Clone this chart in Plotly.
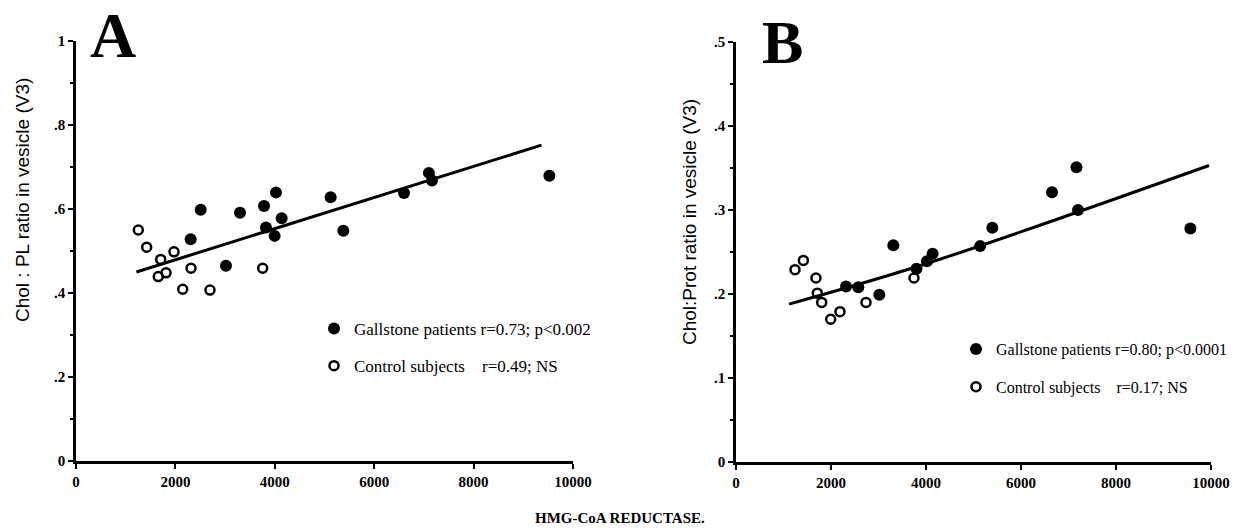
import plotly.graph_objects as go

# ---------------- data ----------------
a_gall_x = [2307, 2509, 3018, 3300, 3783, 3823, 3997, 4024, 4138, 5124, 5379, 6600, 7100, 7163, 9525]
a_gall_y = [0.528, 0.598, 0.465, 0.591, 0.607, 0.556, 0.536, 0.639, 0.578, 0.628, 0.548, 0.638, 0.686, 0.668, 0.679]
a_ctrl_x = [1254, 1422, 1704, 1972, 1656, 1811, 2314, 2147, 2696, 3756]
a_ctrl_y = [0.550, 0.509, 0.480, 0.498, 0.439, 0.448, 0.459, 0.409, 0.407, 0.459]
a_fit_x = [1215, 9366]
a_fit_y = [0.450, 0.752]

b_gall_x = [2316, 2575, 3018, 3312, 3800, 4020, 4140, 5140, 5396, 6653, 7168, 7200, 9566]
b_gall_y = [0.209, 0.208, 0.199, 0.258, 0.230, 0.239, 0.248, 0.257, 0.279, 0.321, 0.351, 0.300, 0.278]
b_ctrl_x = [1242, 1418, 1684, 1712, 1804, 1993, 2189, 2737, 3747]
b_ctrl_y = [0.229, 0.240, 0.219, 0.201, 0.190, 0.170, 0.179, 0.190, 0.219]
b_fit_x = [1116, 4000, 9958]
b_fit_y = [0.188, 0.236, 0.353]

x_ticks = [0, 2000, 4000, 6000, 8000, 10000]
x_ticktext = ["0", "2000", "4000", "6000", "8000", "10000"]
a_yticks = [0, 0.2, 0.4, 0.6, 0.8, 1.0]
a_yticktext = ["0", ".2", ".4", ".6", ".8", "1"]
b_yticks = [0, 0.1, 0.2, 0.3, 0.4, 0.5]
b_yticktext = ["0", ".1", ".2", ".3", ".4", ".5"]

NB = "\u00a0"
a_gall_name = "Gallstone patients" + NB + "r=0.73; p<0.002"
a_ctrl_name = "Control subjects" + NB * 4 + "r=0.49; NS"
b_gall_name = "Gallstone patients" + NB + "r=0.80; p<0.0001"
b_ctrl_name = "Control subjects" + NB * 4 + "r=0.17; NS"

W, H = 1240, 530
fig = go.Figure()

FILLED = dict(color="black", size=12, symbol="circle")
OPEN = dict(color="black", size=9, symbol="circle-open", line=dict(width=2.5, color="black"))

# Panel A
fig.add_trace(go.Scatter(x=a_fit_x, y=a_fit_y, mode="lines", line=dict(color="black", width=3),
                         showlegend=False, xaxis="x", yaxis="y", hoverinfo="skip"))
fig.add_trace(go.Scatter(x=a_ctrl_x, y=a_ctrl_y, mode="markers", marker=OPEN, name=a_ctrl_name,
                         xaxis="x", yaxis="y", legend="legend", legendgroup="ac", legendrank=2))
fig.add_trace(go.Scatter(x=a_gall_x, y=a_gall_y, mode="markers", marker=FILLED, name=a_gall_name,
                         xaxis="x", yaxis="y", legend="legend", legendgroup="ag", legendrank=1))

# Panel B
fig.add_trace(go.Scatter(x=b_fit_x, y=b_fit_y, mode="lines", line=dict(color="black", width=3, shape="spline"),
                         showlegend=False, xaxis="x2", yaxis="y2", hoverinfo="skip"))
fig.add_trace(go.Scatter(x=b_ctrl_x, y=b_ctrl_y, mode="markers", marker=OPEN, name=b_ctrl_name,
                         xaxis="x2", yaxis="y2", legend="legend2", legendgroup="bc", legendrank=2))
fig.add_trace(go.Scatter(x=b_gall_x, y=b_gall_y, mode="markers", marker=FILLED, name=b_gall_name,
                         xaxis="x2", yaxis="y2", legend="legend2", legendgroup="bg", legendrank=1))

def px_x(p):
    return p / W

def px_y(p):
    return 1 - p / H

tickfont = dict(family="Liberation Serif", size=15, color="black", weight="bold")
axis_common = dict(showgrid=False, zeroline=False, showline=True, linecolor="black", linewidth=2.5,
                   ticks="outside", ticklen=5, tickwidth=2, tickcolor="black", tickfont=tickfont)

fig.update_layout(
    width=W, height=H,
    margin=dict(l=0, r=0, t=0, b=0, autoexpand=False),
    paper_bgcolor="white", plot_bgcolor="white",
    xaxis=dict(domain=[px_x(76), px_x(573)], range=[0, 10000], tickvals=x_ticks, ticktext=x_ticktext,
               anchor="y", **axis_common),
    yaxis=dict(domain=[px_y(461), px_y(41)], range=[0, 1], tickvals=a_yticks, ticktext=a_yticktext,
               anchor="x", minor=dict(dtick=0.1, ticklen=3, tickwidth=1.5, tickcolor="black", ticks="outside"),
               **axis_common),
    xaxis2=dict(domain=[px_x(736), px_x(1211)], range=[0, 10000], tickvals=x_ticks, ticktext=x_ticktext,
                anchor="y2", **axis_common),
    yaxis2=dict(domain=[px_y(462), px_y(42)], range=[0, 0.5], tickvals=b_yticks, ticktext=b_yticktext,
                anchor="x2", minor=dict(dtick=0.05, ticklen=3, tickwidth=1.5, tickcolor="black", ticks="outside"),
                **axis_common),
    legend=dict(x=px_x(314), y=px_y(311), xanchor="left", yanchor="top", bgcolor="rgba(0,0,0,0)",
                font=dict(family="Liberation Serif", size=17, color="black"),
                traceorder="grouped", tracegroupgap=12, itemwidth=30),
    legend2=dict(x=px_x(956), y=px_y(332), xanchor="left", yanchor="top", bgcolor="rgba(0,0,0,0)",
                 font=dict(family="Liberation Serif", size=16, color="black"),
                 traceorder="grouped", tracegroupgap=14, itemwidth=30),
    showlegend=True,
)

annotations = [
    dict(text="A", x=px_x(113), y=px_y(36), xref="paper", yref="paper", showarrow=False,
         xanchor="center", yanchor="middle",
         font=dict(family="Liberation Serif", size=64, color="black", weight="bold")),
    dict(text="B", x=px_x(782), y=px_y(42), xref="paper", yref="paper", showarrow=False,
         xanchor="center", yanchor="middle",
         font=dict(family="Liberation Serif", size=62, color="black", weight="bold")),
    dict(text="Chol : PL ratio in vesicle (V3)", x=px_x(22), y=px_y(200), xref="paper", yref="paper",
         showarrow=False, textangle=-90, xanchor="center", yanchor="middle",
         font=dict(family="Liberation Sans", size=19, color="black")),
    dict(text="Chol:Prot ratio in vesicle (V3)", x=px_x(689), y=px_y(222), xref="paper", yref="paper",
         showarrow=False, textangle=-90, xanchor="center", yanchor="middle",
         font=dict(family="Liberation Sans", size=19, color="black")),
    dict(text="HMG-CoA REDUCTASE.", x=px_x(620), y=px_y(518), xref="paper", yref="paper",
         showarrow=False, xanchor="center", yanchor="middle",
         font=dict(family="Liberation Serif", size=15, color="black", weight="bold")),
]
fig.update_layout(annotations=annotations)

fig.write_html("out.html")
